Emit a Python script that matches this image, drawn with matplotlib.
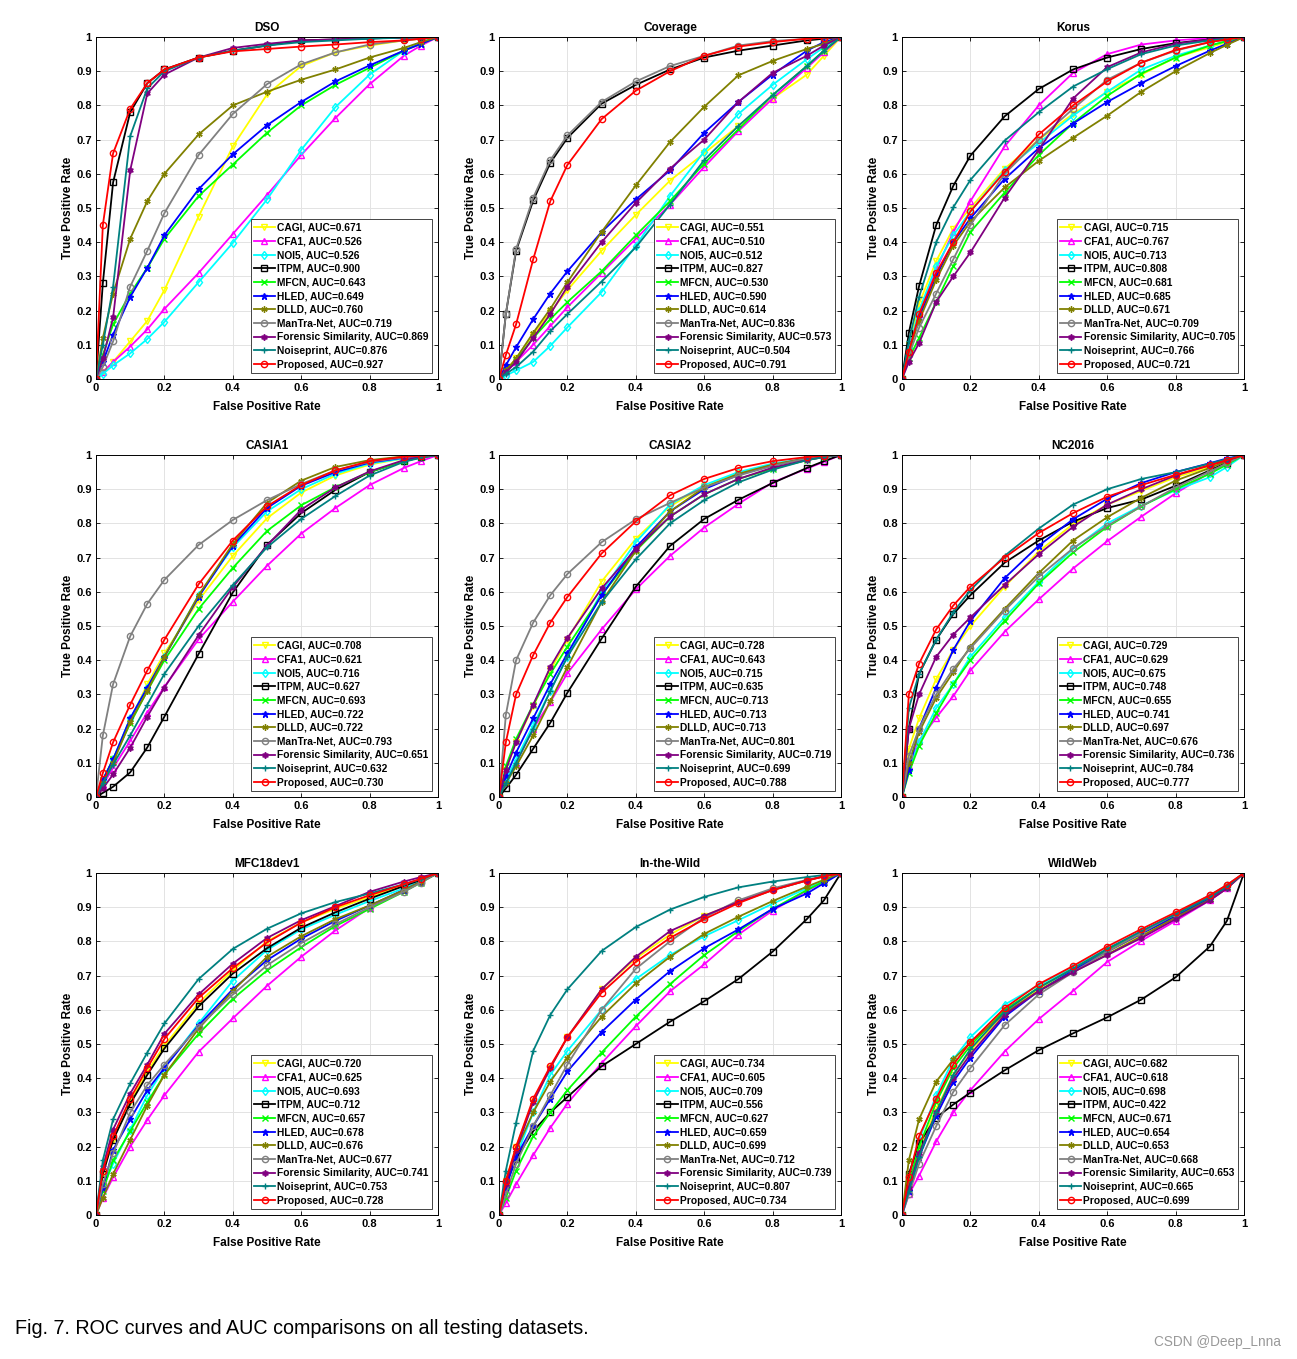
import matplotlib
matplotlib.use('Agg')
from matplotlib import pyplot as plt

plt.rcParams['font.family'] = ['Liberation Sans', 'DejaVu Sans']

# false positive rate grid shared by every curve
fpr = [0, 0.02, 0.05, 0.1, 0.15, 0.2, 0.3, 0.4, 0.5, 0.6, 0.7, 0.8, 0.9, 0.95, 1]

methods = ['CAGI', 'CFA1', 'NOI5', 'ITPM', 'MFCN', 'HLED', 'DLLD',
           'ManTra-Net', 'Forensic Similarity', 'Noiseprint', 'Proposed']
colors = ['#FFFF00', '#FF00FF', '#00FFFF', '#000000', '#00FF00', '#0000FF',
          '#808000', '#808080', '#800080', '#008080', '#FF0000']
markers = ['v', '^', 'd', 's', 'x', '*', (6, 2, 0), 'o', (6, 1, 0), '+', 'o']
filled = [False, False, False, False, False, True, True, False, True, False, False]

titles = ['DSO', 'Coverage', 'Korus', 'CASIA1', 'CASIA2', 'NC2016',
          'MFC18dev1', 'In-the-Wild', 'WildWeb']

# TPR values, one row per method (same order as methods)
dso = [
    [0, .02, .05, .11, .17, .26, .475, .68, .832, .915, .955, .975, .99, .995, 1],
    [0, .02, .05, .095, .145, .205, .31, .424, .538, .655, .763, .862, .945, .975, 1],
    [0, .015, .04, .075, .117, .167, .283, .398, .525, .67, .795, .89, .96, .985, 1],
    [0, .28, .575, .78, .865, .905, .94, .96, .975, .99, .993, .996, .998, .999, 1],
    [0, .07, .16, .25, .325, .41, .535, .627, .72, .8, .86, .91, .96, .98, 1],
    [0, .05, .13, .24, .325, .42, .555, .657, .742, .81, .87, .917, .96, .98, 1],
    [0, .12, .25, .41, .52, .6, .715, .8, .84, .875, .905, .94, .968, .985, 1],
    [0, .035, .11, .27, .375, .485, .655, .775, .862, .92, .955, .978, .99, .995, 1],
    [0, .06, .18, .61, .835, .89, .94, .968, .98, .99, .993, .996, .998, .999, 1],
    [0, .1, .27, .71, .85, .9, .94, .96, .975, .985, .99, .995, .998, .999, 1],
    [0, .45, .66, .79, .865, .905, .94, .958, .965, .972, .978, .985, .99, .995, 1],
]
coverage = [
    [0, .025, .06, .13, .195, .26, .375, .48, .58, .66, .74, .82, .89, .945, 1],
    [0, .02, .05, .1, .155, .21, .31, .41, .51, .62, .725, .82, .91, .955, 1],
    [0, .01, .025, .05, .097, .151, .254, .39, .535, .665, .775, .86, .935, .97, 1],
    [0, .19, .375, .522, .632, .705, .805, .86, .905, .94, .96, .975, .99, .995, 1],
    [0, .025, .055, .12, .175, .225, .315, .42, .52, .63, .73, .83, .915, .96, 1],
    [0, .04, .093, .175, .25, .315, .43, .525, .61, .72, .81, .89, .96, .985, 1],
    [0, .025, .06, .135, .205, .283, .43, .566, .693, .796, .888, .93, .965, .98, 1],
    [0, .19, .38, .53, .64, .712, .81, .87, .915, .945, .975, .988, .995, .998, 1],
    [0, .02, .05, .12, .19, .27, .4, .515, .615, .7, .81, .895, .945, .975, 1],
    [0, .015, .035, .08, .14, .19, .285, .385, .51, .64, .74, .83, .915, .96, 1],
    [0, .07, .16, .35, .52, .626, .76, .843, .9, .945, .972, .985, .995, .998, 1],
]
korus = [
    [0, .1, .22, .345, .44, .5, .615, .7, .775, .84, .89, .94, .97, .985, 1],
    [0, .09, .19, .32, .43, .52, .68, .8, .895, .95, .978, .99, .997, .999, 1],
    [0, .09, .2, .33, .42, .49, .61, .69, .77, .84, .905, .945, .975, .988, 1],
    [0, .135, .272, .45, .565, .653, .768, .848, .905, .94, .965, .982, .993, .997, 1],
    [0, .06, .12, .225, .33, .43, .545, .655, .748, .828, .893, .94, .975, .988, 1],
    [0, .08, .18, .3, .4, .47, .585, .675, .747, .81, .865, .915, .96, .98, 1],
    [0, .08, .17, .29, .39, .46, .56, .638, .705, .77, .84, .9, .953, .977, 1],
    [0, .07, .15, .25, .35, .45, .6, .7, .79, .875, .925, .96, .985, .993, 1],
    [0, .05, .105, .225, .3, .37, .53, .67, .82, .912, .955, .98, .993, .997, 1],
    [0, .11, .24, .4, .502, .582, .697, .78, .855, .906, .95, .975, .99, .995, 1],
    [0, .08, .19, .31, .4, .49, .605, .715, .8, .87, .925, .962, .985, .993, 1],
]
casia1 = [
    [0, .05, .11, .225, .33, .42, .575, .705, .815, .89, .94, .972, .99, .996, 1],
    [0, .035, .085, .164, .247, .322, .461, .571, .676, .77, .845, .912, .962, .982, 1],
    [0, .05, .11, .23, .32, .41, .59, .73, .835, .9, .945, .975, .99, .996, 1],
    [0, .012, .03, .072, .145, .235, .418, .598, .737, .83, .898, .95, .982, .993, 1],
    [0, .05, .11, .215, .31, .4, .55, .67, .778, .853, .906, .95, .982, .993, 1],
    [0, .05, .11, .23, .32, .41, .585, .735, .845, .91, .95, .978, .992, .997, 1],
    [0, .04, .1, .22, .31, .41, .59, .74, .86, .925, .965, .985, .996, .998, 1],
    [0, .18, .33, .47, .565, .635, .737, .81, .868, .915, .955, .98, .993, .997, 1],
    [0, .025, .066, .144, .235, .32, .473, .614, .735, .84, .905, .952, .985, .994, 1],
    [0, .04, .095, .18, .27, .36, .5, .62, .73, .813, .88, .94, .98, .992, 1],
    [0, .07, .16, .27, .37, .46, .622, .75, .85, .912, .955, .982, .995, .998, 1],
]
casia2 = [
    [0, .08, .16, .265, .37, .46, .63, .755, .85, .908, .946, .972, .99, .996, 1],
    [0, .04, .1, .2, .278, .362, .49, .607, .705, .788, .857, .92, .96, .98, 1],
    [0, .05, .11, .21, .31, .41, .6, .745, .855, .912, .95, .975, .99, .996, 1],
    [0, .025, .065, .141, .217, .305, .463, .615, .734, .813, .869, .918, .962, .982, 1],
    [0, .09, .17, .27, .36, .44, .59, .72, .82, .885, .93, .96, .985, .994, 1],
    [0, .06, .13, .23, .33, .42, .59, .73, .835, .9, .942, .97, .99, .996, 1],
    [0, .04, .09, .18, .28, .38, .57, .72, .835, .905, .945, .972, .99, .996, 1],
    [0, .24, .4, .51, .59, .652, .745, .812, .86, .905, .94, .968, .99, .996, 1],
    [0, .08, .16, .27, .38, .465, .61, .725, .82, .885, .93, .963, .985, .994, 1],
    [0, .04, .1, .2, .31, .41, .57, .695, .8, .868, .92, .957, .985, .994, 1],
    [0, .16, .3, .415, .51, .585, .712, .806, .882, .93, .962, .982, .994, .998, 1],
]
nc2016 = [
    [0, .14, .23, .345, .43, .5, .615, .718, .798, .855, .895, .935, .965, .982, 1],
    [0, .09, .165, .232, .295, .37, .483, .578, .668, .748, .82, .888, .948, .975, 1],
    [0, .08, .16, .26, .33, .41, .525, .63, .725, .8, .852, .897, .935, .965, 1],
    [0, .2, .36, .46, .535, .59, .685, .75, .805, .845, .87, .91, .955, .978, 1],
    [0, .07, .15, .245, .33, .4, .515, .625, .715, .79, .85, .9, .945, .972, 1],
    [0, .08, .2, .32, .43, .515, .64, .735, .812, .872, .918, .95, .976, .99, 1],
    [0, .1, .19, .29, .365, .44, .55, .655, .75, .818, .875, .925, .962, .982, 1],
    [0, .12, .2, .3, .375, .435, .545, .645, .727, .793, .85, .905, .952, .976, 1],
    [0, .2, .3, .41, .475, .525, .62, .71, .79, .855, .9, .94, .97, .985, 1],
    [0, .26, .36, .46, .54, .605, .705, .785, .855, .9, .93, .95, .975, .988, 1],
    [0, .3, .39, .49, .56, .615, .7, .772, .83, .878, .912, .942, .97, .985, 1],
]
mfc18 = [
    [0, .12, .22, .33, .42, .495, .62, .715, .8, .855, .895, .93, .965, .982, 1],
    [0, .05, .11, .2, .278, .35, .477, .575, .67, .755, .832, .898, .952, .976, 1],
    [0, .08, .15, .25, .35, .43, .56, .685, .775, .835, .878, .918, .955, .978, 1],
    [0, .12, .22, .325, .41, .487, .61, .706, .78, .84, .885, .925, .962, .98, 1],
    [0, .07, .16, .245, .33, .41, .53, .632, .715, .783, .845, .895, .945, .972, 1],
    [0, .08, .19, .28, .365, .43, .555, .66, .745, .808, .86, .905, .95, .975, 1],
    [0, .05, .12, .22, .32, .41, .545, .655, .755, .815, .865, .905, .95, .975, 1],
    [0, .09, .18, .3, .38, .44, .55, .645, .73, .795, .85, .9, .945, .972, 1],
    [0, .14, .25, .355, .44, .53, .645, .735, .81, .862, .903, .945, .975, .988, 1],
    [0, .16, .28, .385, .475, .56, .69, .778, .837, .882, .915, .94, .967, .982, 1],
    [0, .13, .23, .34, .43, .515, .635, .722, .797, .855, .9, .935, .967, .983, 1],
]
wild = [
    [0, .1, .2, .33, .43, .52, .66, .75, .82, .875, .915, .95, .978, .99, 1],
    [0, .035, .09, .175, .255, .326, .444, .552, .654, .733, .82, .89, .948, .975, 1],
    [0, .08, .17, .3, .41, .48, .6, .69, .76, .815, .862, .91, .955, .978, 1],
    [0, .09, .165, .245, .3, .345, .435, .5, .565, .625, .69, .77, .865, .92, 1],
    [0, .05, .13, .23, .3, .365, .475, .58, .675, .76, .83, .895, .95, .975, 1],
    [0, .08, .17, .26, .34, .42, .535, .63, .713, .78, .835, .895, .94, .97, 1],
    [0, .1, .19, .3, .39, .46, .58, .677, .755, .822, .872, .918, .96, .98, 1],
    [0, .06, .15, .26, .35, .44, .6, .72, .8, .87, .92, .955, .98, .99, 1],
    [0, .09, .19, .33, .43, .52, .66, .755, .83, .875, .915, .95, .978, .99, 1],
    [0, .13, .27, .48, .585, .66, .772, .842, .893, .93, .958, .975, .988, .994, 1],
    [0, .1, .2, .34, .435, .52, .65, .74, .81, .865, .912, .95, .978, .99, 1],
]
wildweb = [
    [0, .08, .19, .31, .41, .48, .59, .66, .715, .77, .82, .87, .925, .96, 1],
    [0, .06, .115, .215, .3, .365, .478, .573, .655, .74, .802, .86, .92, .955, 1],
    [0, .1, .22, .35, .455, .52, .615, .672, .725, .778, .83, .878, .93, .96, 1],
    [0, .12, .21, .285, .323, .358, .423, .482, .531, .578, .63, .695, .785, .86, 1],
    [0, .09, .2, .33, .43, .495, .6, .665, .72, .775, .825, .875, .928, .96, 1],
    [0, .07, .17, .29, .39, .46, .58, .655, .715, .77, .823, .873, .925, .958, 1],
    [0, .16, .28, .39, .455, .505, .59, .655, .71, .762, .815, .87, .922, .955, 1],
    [0, .06, .15, .26, .36, .43, .555, .645, .71, .77, .825, .88, .935, .965, 1],
    [0, .08, .18, .3, .4, .47, .585, .655, .71, .76, .81, .865, .92, .955, 1],
    [0, .07, .17, .3, .41, .485, .595, .665, .72, .778, .83, .88, .93, .96, 1],
    [0, .11, .23, .34, .44, .505, .605, .675, .728, .785, .836, .885, .935, .965, 1],
]

dso_auc = ['0.671', '0.526', '0.526', '0.900', '0.643', '0.649', '0.760', '0.719', '0.869', '0.876', '0.927']
coverage_auc = ['0.551', '0.510', '0.512', '0.827', '0.530', '0.590', '0.614', '0.836', '0.573', '0.504', '0.791']
korus_auc = ['0.715', '0.767', '0.713', '0.808', '0.681', '0.685', '0.671', '0.709', '0.705', '0.766', '0.721']
casia1_auc = ['0.708', '0.621', '0.716', '0.627', '0.693', '0.722', '0.722', '0.793', '0.651', '0.632', '0.730']
casia2_auc = ['0.728', '0.643', '0.715', '0.635', '0.713', '0.713', '0.713', '0.801', '0.719', '0.699', '0.788']
nc2016_auc = ['0.729', '0.629', '0.675', '0.748', '0.655', '0.741', '0.697', '0.676', '0.736', '0.784', '0.777']
mfc18_auc = ['0.720', '0.625', '0.693', '0.712', '0.657', '0.678', '0.676', '0.677', '0.741', '0.753', '0.728']
wild_auc = ['0.734', '0.605', '0.709', '0.556', '0.627', '0.659', '0.699', '0.712', '0.739', '0.807', '0.734']
wildweb_auc = ['0.682', '0.618', '0.698', '0.422', '0.671', '0.654', '0.653', '0.668', '0.653', '0.665', '0.699']

panels = [dso, coverage, korus, casia1, casia2, nc2016, mfc18, wild, wildweb]
aucs = [dso_auc, coverage_auc, korus_auc, casia1_auc, casia2_auc,
        nc2016_auc, mfc18_auc, wild_auc, wildweb_auc]

W, H = 1297, 1359
fig = plt.figure(figsize=(W / 100, H / 100), dpi=100)

col_left = [96, 499, 902]
row_top = [37, 455, 873]
size = 342

for k in range(9):
    r, c = divmod(k, 3)
    ax = fig.add_axes([col_left[c] / W, 1 - (row_top[r] + size) / H, size / W, size / H])
    for i in range(11):
        ax.plot(fpr, panels[k][i], color=colors[i], marker=markers[i],
                markersize=4.5, markeredgewidth=1.0, linewidth=1.3,
                markerfacecolor=colors[i] if filled[i] else 'none',
                label='%s, AUC=%s' % (methods[i], aucs[k][i]))
    ax.set_xlim(0, 1)
    ax.set_ylim(0, 1)
    ax.set_xticks([0, 0.2, 0.4, 0.6, 0.8, 1])
    ax.set_xticklabels(['0', '0.2', '0.4', '0.6', '0.8', '1'])
    ax.set_yticks([i / 10 for i in range(11)])
    ax.set_yticklabels(['0'] + ['0.%d' % i for i in range(1, 10)] + ['1'])
    ax.grid(True, color='#e3e3e3', linewidth=0.7)
    ax.set_axisbelow(True)
    ax.tick_params(direction='in', length=3, width=0.6, labelsize=8,
                   top=True, right=True, pad=3)
    for lab in ax.get_xticklabels() + ax.get_yticklabels():
        lab.set_fontweight('bold')
    for s in ax.spines.values():
        s.set_linewidth(0.7)
    ax.set_title(titles[k], fontsize=8.5, fontweight='bold', pad=4)
    ax.set_xlabel('False Positive Rate', fontsize=8.5, fontweight='bold', labelpad=6)
    ax.set_ylabel('True Positive Rate', fontsize=8.5, fontweight='bold', labelpad=1.5)
    leg = ax.legend(loc='lower right', prop={'weight': 'bold', 'size': 7.4},
                    fancybox=False, framealpha=1, edgecolor='#444444',
                    labelspacing=0.36, handlelength=2.0, handletextpad=0.25,
                    borderpad=0.35, borderaxespad=0.55, markerscale=1.0)
    leg.get_frame().set_linewidth(0.7)

fig.text(15 / W, 1 - 1328 / H, 'Fig. 7. ROC curves and AUC comparisons on all testing datasets.',
         fontsize=14.2, va='center', ha='left')
fig.text(1281 / W, 1 - 1342 / H, 'CSDN @Deep_Lnna', fontsize=9.8, color='#999999',
         va='center', ha='right')

plt.savefig('out.png', dpi=100)
